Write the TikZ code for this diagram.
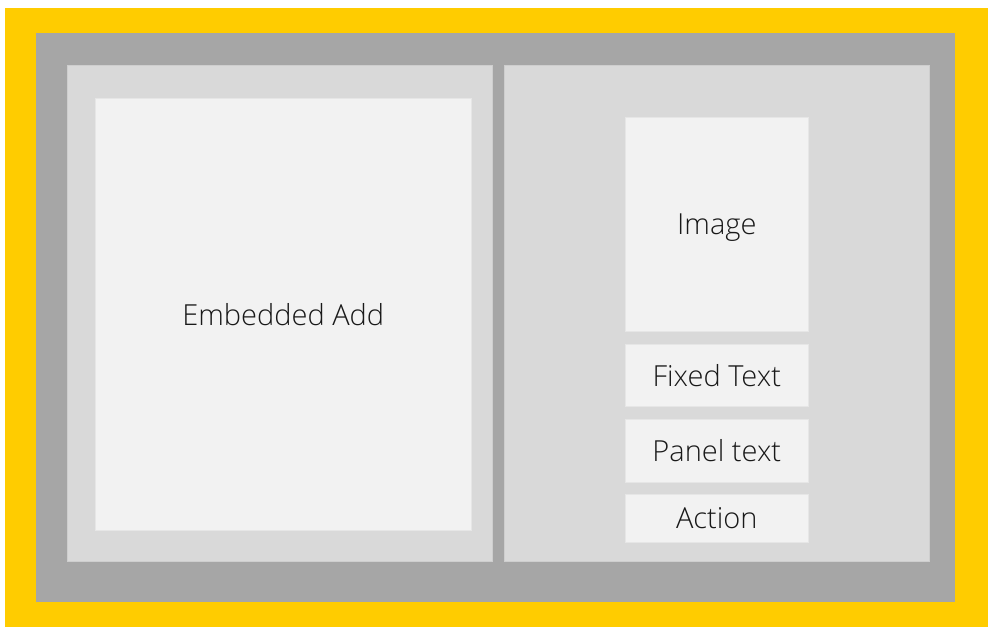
\documentclass[tikz,border=0pt]{standalone}
\usepackage{fontspec}
\setmainfont{Open Sans}[UprightFont={* Light}]
\usepackage{tikz}
\usetikzlibrary{positioning}
\definecolor{frameyellow}{HTML}{FFCC00}
\definecolor{framegray}{HTML}{A6A6A6}
\definecolor{panelgray}{HTML}{D9D9D9}
\definecolor{boxgray}{HTML}{F2F2F2}
\tikzstyle{frame} = [rectangle, inner sep=0pt, anchor=north west]
\tikzstyle{panel} = [frame, fill=panelgray, draw=panelgray!95!black, line width=0.6pt]
\tikzstyle{box} = [frame, fill=boxgray, draw=boxgray!95!black, line width=0.6pt, font=\fontsize{29}{33}\selectfont\color{black!90}, text depth=0pt, text centered]
\begin{document}
\begin{tikzpicture}[x=1pt, y=-1pt]
	\useasboundingbox[fill=white] (0,0) rectangle (999,638);
	\node (Outer) [frame, fill=frameyellow, minimum width=983pt, minimum height=619pt] at (5,8) {};
	\node (Inner) [frame, fill=framegray, minimum width=919pt, minimum height=569pt] at (36,33) {};
	\node (LeftPanel) [panel, minimum width=425pt, minimum height=496pt] at (67,65) {};
	\node (RightPanel) [panel, minimum width=425pt, minimum height=496pt] at (504,65) {};
	\node (Add) [box, minimum width=376pt, minimum height=432pt] at (95,98) {Embedded Add};
	\node (Image) [box, minimum width=183pt, minimum height=214pt] at (625,117) {Image};
	\node (Fixed) [box, minimum width=183pt, minimum height=62pt] at (625,344) {Fixed Text};
	\node (Panel) [box, minimum width=183pt, minimum height=63pt] at (625,419) {Panel text};
	\node (Action) [box, minimum width=183pt, minimum height=48pt] at (625,494) {Action};
\end{tikzpicture}
\end{document}
